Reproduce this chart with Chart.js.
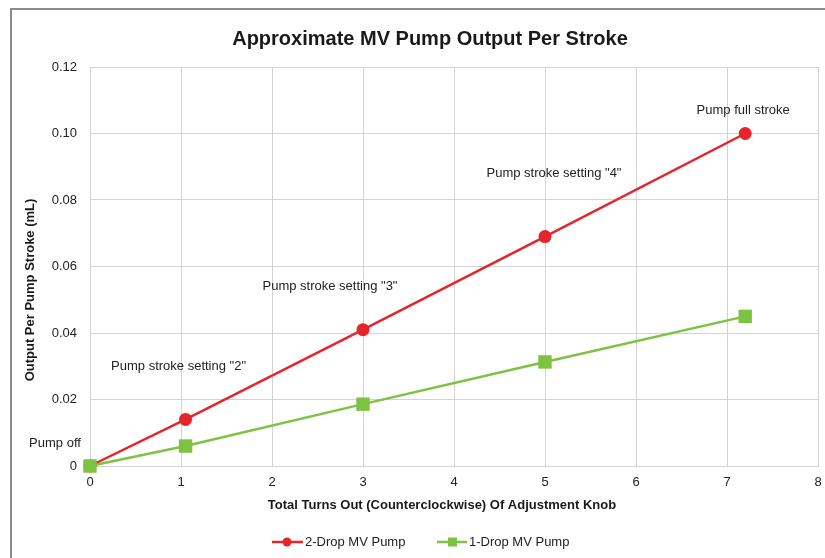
<!DOCTYPE html>
<html>
<head>
<meta charset="utf-8">
<script src="https://cdn.jsdelivr.net/npm/chart.js@4.4.1/dist/chart.umd.min.js"></script>
<style>
  body { margin: 0; background: #fff; }
  #frame {
    position: absolute; left: 10px; top: 8px; width: 830px; height: 560px;
    border-top: 2px solid #8c8c8c; border-left: 2px solid #8c8c8c;
  }
  #wrap { position: absolute; left: 0; top: 0; width: 825px; height: 558px; }
</style>
</head>
<body>
<div id="frame"></div>
<div id="wrap"><canvas id="pumpChart" width="825" height="558"></canvas></div>
<script>
// Turns of the adjustment knob and measured output per stroke (mL)
const turns = [0, 1.05, 3, 5, 7.2];
const twoDrop = [0, 0.014, 0.041, 0.069, 0.1];
const oneDrop = [0, 0.006, 0.0186, 0.0313, 0.045];
const seriesNames = ['2-Drop MV Pump', '1-Drop MV Pump'];
const yTicks = [0, 0.02, 0.04, 0.06, 0.08, 0.10, 0.12];

// Setting labels, attached to the 2-drop points
const settingLabels = ['Pump off', 'Pump stroke setting "2"', 'Pump stroke setting "3"', 'Pump stroke setting "4"', 'Pump full stroke'];
const labelOffsets = [[-35, -23], [-7, -53], [-33, -43], [9, -63], [-2, -23]];

const RED = '#e4252b';
const GREEN = '#7dc242';
const FONT = "'Liberation Sans', Arial, sans-serif";

const pts = (xs, ys) => xs.map((x, i) => ({ x: x, y: ys[i] }));

const extras = {
  id: 'extras',
  afterDraw(chart) {
    const ctx = chart.ctx;
    const xs = chart.scales.x, ys = chart.scales.y;
    ctx.save();
    ctx.fillStyle = '#1a1a1a';
    ctx.textAlign = 'center';
    ctx.textBaseline = 'middle';

    // title
    ctx.font = 'bold 20px ' + FONT;
    ctx.fillText('Approximate MV Pump Output Per Stroke', 430, 39);

    // axis titles
    ctx.font = 'bold 13px ' + FONT;
    ctx.fillText('Total Turns Out (Counterclockwise) Of Adjustment Knob', 442, 505);
    ctx.save();
    ctx.translate(30, 290);
    ctx.rotate(-Math.PI / 2);
    ctx.fillText('Output Per Pump Stroke (mL)', 0, 0);
    ctx.restore();

    // setting labels
    ctx.font = '13px ' + FONT;
    ctx.fillStyle = '#222';
    settingLabels.forEach((t, i) => {
      const px = xs.getPixelForValue(turns[i]);
      const py = ys.getPixelForValue(twoDrop[i]);
      ctx.fillText(t, px + labelOffsets[i][0], py + labelOffsets[i][1]);
    });

    // legend
    const ly = 542;
    ctx.lineWidth = 2.5;
    ctx.strokeStyle = RED;
    ctx.beginPath(); ctx.moveTo(272, ly); ctx.lineTo(303, ly); ctx.stroke();
    ctx.fillStyle = RED;
    ctx.beginPath(); ctx.arc(287, ly, 4.5, 0, Math.PI * 2); ctx.fill();
    ctx.strokeStyle = GREEN;
    ctx.beginPath(); ctx.moveTo(437, ly); ctx.lineTo(467, ly); ctx.stroke();
    ctx.fillStyle = GREEN;
    ctx.fillRect(448, ly - 4.5, 9, 9);
    ctx.font = '13px ' + FONT;
    ctx.fillStyle = '#222';
    ctx.textAlign = 'left';
    ctx.fillText(seriesNames[0], 305, ly);
    ctx.fillText(seriesNames[1], 469, ly);
    ctx.restore();
  }
};

new Chart(document.getElementById('pumpChart'), {
  type: 'scatter',
  data: {
    datasets: [
      {
        label: seriesNames[0],
        data: pts(turns, twoDrop),
        showLine: true,
        order: 1,
        clip: false,
        borderColor: RED,
        backgroundColor: RED,
        borderWidth: 2.5,
        pointStyle: 'circle',
        pointRadius: 6.5,
        pointBorderWidth: 0
      },
      {
        label: seriesNames[1],
        data: pts(turns, oneDrop),
        showLine: true,
        order: 0,
        clip: false,
        borderColor: GREEN,
        backgroundColor: GREEN,
        borderWidth: 2.5,
        pointStyle: 'rect',
        pointRadius: 9.5,
        pointBorderWidth: 0
      }
    ]
  },
  options: {
    responsive: false,
    animation: false,
    layout: { autoPadding: false, padding: { left: 10, right: 7, top: 67, bottom: 62 } },
    plugins: {
      legend: { display: false },
      title: { display: false },
      tooltip: { enabled: false }
    },
    scales: {
      x: {
        type: 'linear',
        min: 0,
        max: 8,
        // tick marks are invisible; their length only spaces the labels
        ticks: { stepSize: 1, padding: 0, color: '#222', font: { family: FONT, size: 13 } },
        grid: { color: '#d3d3d3', drawTicks: true, tickLength: 9, tickColor: 'rgba(0,0,0,0)' },
        border: { color: '#d3d3d3' },
        afterFit(s) { s.height = 30; }
      },
      y: {
        min: 0,
        max: 0.12,
        afterBuildTicks(s) { s.ticks = yTicks.map(v => ({ value: v })); },
        ticks: {
          padding: 13,
          color: '#222',
          font: { family: FONT, size: 13 },
          callback: v => (v === 0 ? '0' : v.toFixed(2))
        },
        grid: { color: '#d3d3d3', drawTicks: false },
        border: { color: '#d3d3d3' },
        afterFit(s) { s.width = 80; }
      }
    }
  },
  plugins: [extras]
});
</script>
</body>
</html>
